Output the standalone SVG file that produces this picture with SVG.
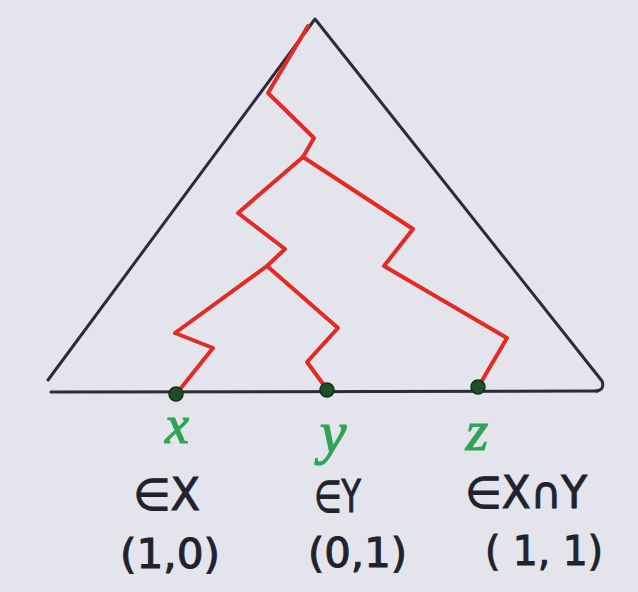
<svg xmlns="http://www.w3.org/2000/svg" width="638" height="592" viewBox="0 0 638 592">
  <style>
    .edge { fill: none; stroke: #2b2b3a; stroke-width: 3; stroke-linecap: round; stroke-linejoin: round; }
    .red { fill: none; stroke: #e42a25; stroke-width: 4; stroke-linecap: round; stroke-linejoin: round; }
    .dot { fill: #1f4f2a; stroke: #123018; stroke-width: 1.5; }
    .var { font-family: "Liberation Serif", "DejaVu Serif", serif; font-style: italic; fill: #2fa457; stroke: #2fa457; stroke-width: 1.2; text-anchor: middle; }
    .lbl { font-family: "DejaVu Sans", "Liberation Sans", sans-serif; fill: #22222e; stroke: #22222e; stroke-width: 1; }
  </style>
  <rect width="638" height="592" fill="#e3e4ec"/>
  <g id="triangle">
    <path class="edge" d="M48,380 L315,19 L602,381 Q605,390 596,391"/>
    <path class="edge" d="M51,392 L598,391"/>
  </g>
  <g id="connectors">
    <path class="red" d="M308,26 L268,93 L314,138 L303,157"/>
    <path class="red" d="M303,157 L238,213 L285,249 L267,266"/>
    <path class="red" d="M267,266 L175,333 L213,348 L177,393"/>
    <path class="red" d="M267,266 L338,328 L307,362 L326,388"/>
    <path class="red" d="M303,157 L413,229 L384,266 L507,338 L480,384"/>
  </g>
  <g id="node-x">
    <circle class="dot" cx="176" cy="394" r="7"/>
    <text class="var" x="177" y="443" font-size="54">x</text>
    <text class="lbl" x="133" y="510" font-size="44" textLength="67" lengthAdjust="spacingAndGlyphs">∈X</text>
    <text class="lbl" x="120" y="568" font-size="40" textLength="100" lengthAdjust="spacingAndGlyphs">(1,0)</text>
  </g>
  <g id="node-y">
    <circle class="dot" cx="327" cy="390" r="7"/>
    <text class="var" x="333" y="452" font-size="60">y</text>
    <text class="lbl" x="314" y="512" font-size="44" textLength="47" lengthAdjust="spacingAndGlyphs">∈Y</text>
    <text class="lbl" x="308" y="567" font-size="40" textLength="99" lengthAdjust="spacingAndGlyphs">(0,1)</text>
  </g>
  <g id="node-z">
    <circle class="dot" cx="478" cy="387" r="7"/>
    <text class="var" x="477" y="450" font-size="58">z</text>
    <text class="lbl" x="465" y="508" font-size="44" textLength="122" lengthAdjust="spacingAndGlyphs">∈X∩Y</text>
    <text class="lbl" x="485" y="565" font-size="40" textLength="118" lengthAdjust="spacingAndGlyphs">( 1, 1)</text>
  </g>
</svg>
